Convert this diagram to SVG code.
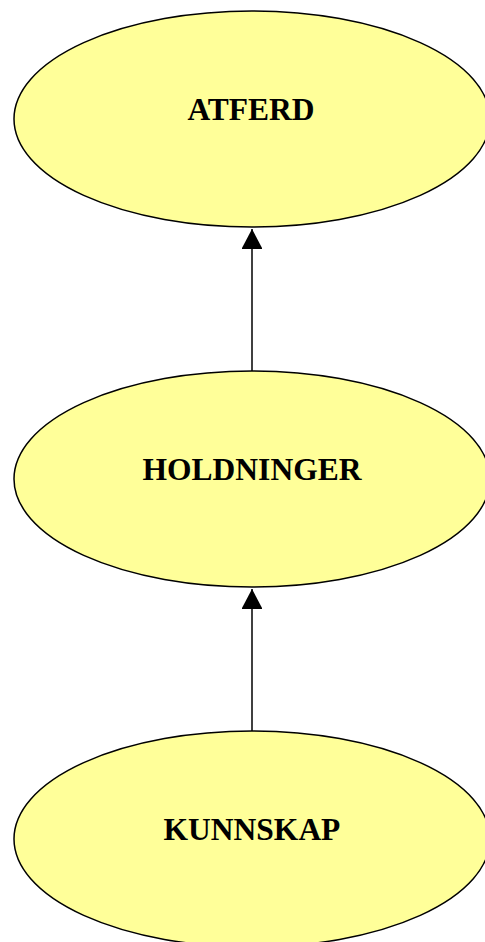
<svg xmlns="http://www.w3.org/2000/svg" width="485" height="942" viewBox="0 0 485 942">
<style>
.node ellipse{fill:#FFFF99;stroke:#000;stroke-width:1.5}
.node text{font-family:"Liberation Serif","Times New Roman",serif;font-weight:bold;font-size:31.5px;fill:#000;text-anchor:middle}
.edge{stroke:#000;stroke-width:1.5;fill:none}
</style>
<defs>
<marker id="arr" markerUnits="userSpaceOnUse" markerWidth="22" markerHeight="20" refX="20" refY="10.5" orient="auto">
<path d="M0,0 L20,10.5 L0,21 Z" fill="#000"/>
</marker>
</defs>
<rect width="485" height="942" fill="#fff"/>
<g id="connectors">
<line class="edge" x1="252" y1="371" x2="252" y2="229" marker-end="url(#arr)"/>
<line class="edge" x1="252" y1="731" x2="252" y2="589" marker-end="url(#arr)"/>
</g>
<g id="atferd" class="node">
<ellipse cx="252" cy="119" rx="238" ry="108"/>
<text x="251" y="120">ATFERD</text>
</g>
<g id="holdninger" class="node">
<ellipse cx="252" cy="479" rx="238" ry="108"/>
<text x="252" y="480">HOLDNINGER</text>
</g>
<g id="kunnskap" class="node">
<ellipse cx="252" cy="839" rx="238" ry="108"/>
<text x="252" y="840">KUNNSKAP</text>
</g>
</svg>
